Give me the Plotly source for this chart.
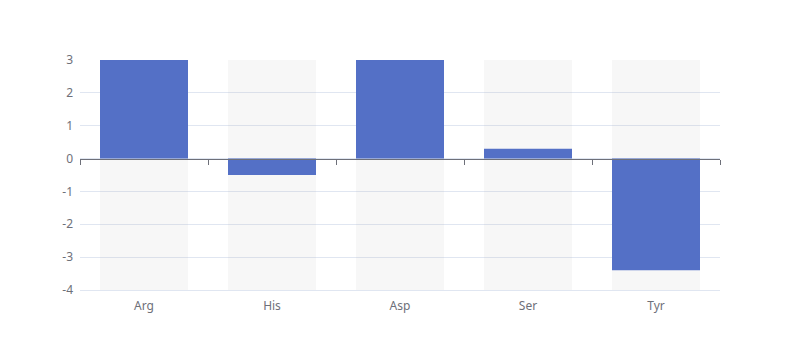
import plotly.graph_objects as go
import numpy as np

categories = ["Arg", "His", "Asp", "Ser", "Tyr"]
values = [3, -0.5, 3, 0.3, -3.4]
y_ticks = [-4, -3, -2, -1, 0, 1, 2, 3]
y_min, y_max = -4, 3

pos = np.arange(len(categories))
bar_w = 0.6875

fig = go.Figure()
# background bars (full-range), semi-transparent so gridlines show through
fig.add_trace(go.Bar(
    x=pos, y=[y_max - y_min] * len(categories), base=[y_min] * len(categories),
    width=bar_w, marker=dict(color="rgba(180,180,180,0.11)", line=dict(width=0)),
    hoverinfo="skip", showlegend=False, xaxis="x",
))
fig.add_trace(go.Bar(
    x=pos, y=values, width=bar_w,
    marker=dict(color="#5470c6", line=dict(width=0)),
    showlegend=False, xaxis="x2",
))

boundaries = np.arange(len(categories) + 1) - 0.5
font = dict(family="Noto Sans, DejaVu Sans, sans-serif", size=12, color="#6E7079")

fig.update_layout(
    width=800, height=360,
    margin=dict(l=72, r=88, t=52, b=78),
    plot_bgcolor="white", paper_bgcolor="white",
    barmode="overlay", font=font,
    xaxis=dict(
        range=[-0.5, len(categories) - 0.5],
        tickmode="array", tickvals=pos, ticktext=categories,
        showgrid=False, zeroline=False, showline=True,
        linecolor="#E0E6F1", linewidth=1, ticks="",
        ticklabelstandoff=5, tickfont=font,
    ),
    xaxis2=dict(
        overlaying="x", anchor="free",
        position=(0 - y_min) / (y_max - y_min),
        range=[-0.5, len(categories) - 0.5],
        tickmode="array", tickvals=boundaries,
        showticklabels=False, ticks="outside", ticklen=5,
        tickcolor="#6E7079", showline=True, linecolor="#6E7079",
        linewidth=1, showgrid=False, zeroline=False, layer="above traces",
        side="bottom",
    ),
    yaxis=dict(
        range=[y_min, y_max], tickmode="array", tickvals=y_ticks,
        ticktext=[str(v) for v in y_ticks],
        gridcolor="#E0E6F1", gridwidth=1, zeroline=False,
        showline=False, ticks="", ticklabelstandoff=6, tickfont=font,
    ),
)

fig.write_html("out.html")
